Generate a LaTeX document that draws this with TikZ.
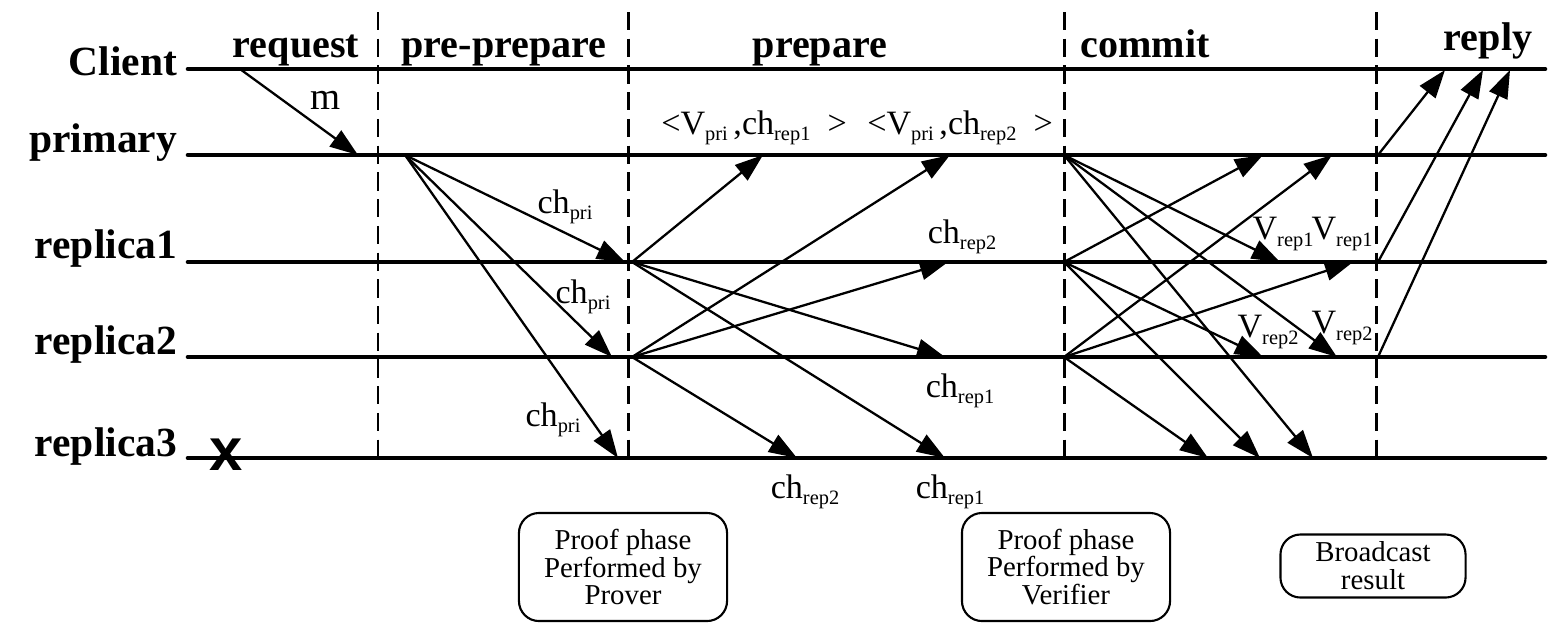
\documentclass[tikz,border=0pt]{standalone}
\usepackage{fontspec}
\setmainfont{Liberation Serif}
\setsansfont{Liberation Sans}
\usetikzlibrary{arrows.meta}
\newcommand{\subtxt}[1]{\raisebox{-1.8pt}{\fontsize{5.8}{6}\selectfont #1}}

\begin{document}
\begin{tikzpicture}[x=0.01cm, y=-0.01cm,
  every node/.style={inner sep=0pt, outer sep=0pt},
  life/.style={line width=1.3pt, line cap=round},
  border/.style={line width=0.85pt, dash pattern=on 5.2pt off 2.4pt},
  msg/.style={-{Triangle[length=8pt, width=5.6pt]}, line width=0.65pt},
  actor/.style={font=\fontsize{11.8}{13}\selectfont\bfseries, anchor=base east},
  phaselbl/.style={font=\fontsize{11.4}{13}\selectfont\bfseries, anchor=base},
  msglbl/.style={font=\fontsize{9.7}{11}\selectfont},
  note/.style={draw, line width=0.6pt, rounded corners=5.7pt, align=center,
               font=\fontsize{8.2}{7.9}\selectfont}
]
\useasboundingbox (0,0) rectangle (1554,629);
% Lifelines with their names
\foreach \n/\y/\t/\b in {cl/69/Client/75, pr/155/primary/152, ra/262/replica1/258,
                         rb/357/replica2/354, rc/458/replica3/456} {
  \node[actor] (\n) at (177,\b) {\t};
  \coordinate (\n-l) at (188,\y);
  \coordinate (\n-r) at (1545,\y);
  \draw[life] (\n-l) -- (\n-r);
}
% Faulty replica
\node[font=\fontsize{17}{17}\selectfont\sffamily\bfseries] (fail) at (226,455) {x};
% Phase borders
\foreach \x in {378,628,1064,1376}
  \draw[border] (\x,12) -- (\x,464);
% Phase names
\foreach \n/\x/\y/\t in {ph-req/296/57/request, ph-pre/504/57/pre-prepare,
                         ph-prep/820/57/prepare, ph-com/1145/57/commit, ph-rep/1488/50/reply}
  \node[phaselbl] (\n) at (\x,\y) {\t};
% Points where messages leave and reach the lifelines
\foreach \n/\x/\y in {req-s/240/69, req-t/358/155,
    pp-s/405/155, pp-ra/625/262, pp-rb/612/357, pp-rc/618/458,
    pa-s/632/262, pa-pr/763/155, pa-rb/945/357, pa-rc/945/458,
    pb-s/632/357, pb-pr/950/155, pb-ra/948/262, pb-rc/797/458,
    c0-s/1064/155, c0-ra/1280/262, c0-rb/1337/357, c0-rc/1313/458,
    ca-s/1064/262, ca-pr/1263/155, ca-rb/1263/357, ca-rc/1260/458,
    cb-s/1064/357, cb-pr/1332/155, cb-ra/1353/262, cb-rc/1208/458,
    r0-s/1378/155, ra-s/1378/262, rb-s/1378/357,
    r0-t/1445/70, ra-t/1483/70, rb-t/1510/70}
  \coordinate (\n) at (\x,\y);
% Messages
\foreach \a/\b in {req-s/req-t,
    pp-s/pp-ra, pp-s/pp-rb, pp-s/pp-rc,
    pa-s/pa-pr, pa-s/pa-rb, pa-s/pa-rc,
    pb-s/pb-pr, pb-s/pb-ra, pb-s/pb-rc,
    c0-s/c0-ra, c0-s/c0-rb, c0-s/c0-rc,
    ca-s/ca-pr, ca-s/ca-rb, ca-s/ca-rc,
    cb-s/cb-pr, cb-s/cb-ra, cb-s/cb-rc,
    r0-s/r0-t, ra-s/ra-t, rb-s/rb-t}
  \draw[msg] (\a) -- (\b);
% Message labels
\node[msglbl, font=\fontsize{11}{12}\selectfont] (lm) at (326,100) {m};
\node[msglbl] (lpri1) at (565,207) {ch\subtxt{pri}};
\node[msglbl] (lpri2) at (583,297) {ch\subtxt{pri}};
\node[msglbl] (lpri3) at (553,420) {ch\subtxt{pri}};
\node[msglbl] (lvpa) at (754,128) {\textless V\subtxt{pri}\,,ch\subtxt{rep1}\ \ \textgreater};
\node[msglbl] (lvpb) at (960,128) {\textless V\subtxt{pri}\,,ch\subtxt{rep2}\ \ \textgreater};
\node[msglbl] (lchb1) at (962,237) {ch\subtxt{rep2}};
\node[msglbl] (lcha1) at (960,391) {ch\subtxt{rep1}};
\node[msglbl] (lchb2) at (805,492) {ch\subtxt{rep2}};
\node[msglbl] (lcha2) at (950,492) {ch\subtxt{rep1}};
\node[msglbl] (lva1) at (1283,234) {V\subtxt{rep1}};
\node[msglbl] (lva2) at (1342,234) {V\subtxt{rep1}};
\node[msglbl] (lvb1) at (1268,332) {V\subtxt{rep2}};
\node[msglbl] (lvb2) at (1342,328) {V\subtxt{rep2}};
% Notes under the phases
\node[note, minimum width=2.08cm, minimum height=1.08cm] (prover) at (623,567)
  {Proof phase\\Performed by\\Prover};
\node[note, minimum width=2.08cm, minimum height=1.08cm] (verifier) at (1066,567)
  {Proof phase\\Performed by\\Verifier};
\node[note, minimum width=1.85cm, minimum height=0.63cm] (bcast) at (1373,566)
  {Broadcast\\result};
\end{tikzpicture}
\end{document}
